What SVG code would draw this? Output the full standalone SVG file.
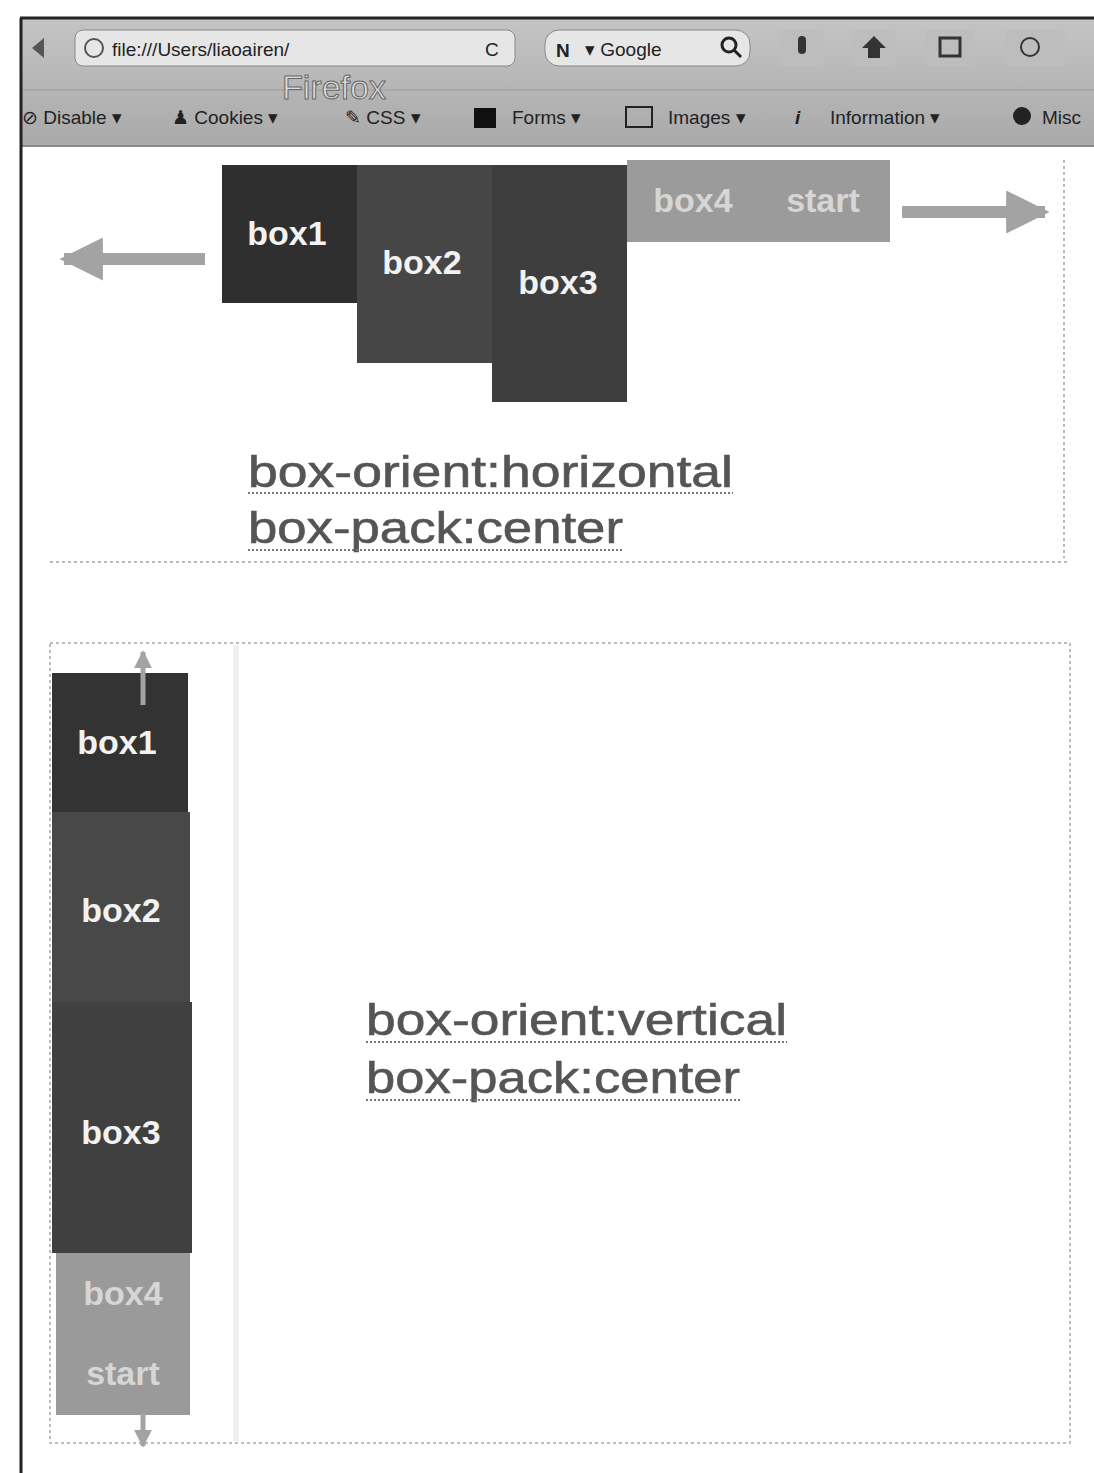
<svg xmlns="http://www.w3.org/2000/svg" width="1094" height="1473" viewBox="0 0 1094 1473">
<defs>
<linearGradient id="tb" x1="0" y1="0" x2="0" y2="1">
<stop offset="0" stop-color="#c4c4c4"/><stop offset="1" stop-color="#a9a9a9"/>
</linearGradient>
<marker id="ah" viewBox="0 0 10 10" refX="9" refY="5" markerWidth="3.6" markerHeight="4" orient="auto" markerUnits="strokeWidth">
<path d="M0,0 L10,5 L0,10 z" fill="#a3a3a3"/>
</marker>
</defs>
<style>
.tbt{font-family:"Liberation Sans",Arial,sans-serif;font-size:19px;fill:#222}
.lbl{font-family:"Liberation Sans",Arial,sans-serif;font-weight:bold;font-size:34px;fill:#f2f2f2;text-anchor:middle}
.lbl2{font-family:"Liberation Sans",Arial,sans-serif;font-weight:bold;font-size:34px;fill:#d6d6d6;text-anchor:middle}
.css{font-family:"Liberation Sans",Arial,sans-serif;font-size:44px;fill:#555;stroke:#555;stroke-width:0.6}
.ul{stroke:#777;stroke-width:2;stroke-dasharray:2 2}
.dot{fill:none;stroke:#bbb;stroke-width:2;stroke-dasharray:3 3}
.arr{stroke:#a3a3a3;fill:none}
</style>
<rect width="1094" height="1473" fill="#fff"/>
<g id="browser-chrome">
<rect x="20" y="18" width="1074" height="128" fill="url(#tb)"/>
<line x1="20" y1="90" x2="1094" y2="90" stroke="#999" stroke-width="1"/>
<rect x="75" y="30" width="440" height="36" rx="8" fill="#e6e6e6" stroke="#888"/>
<circle cx="94" cy="48" r="9" fill="none" stroke="#555" stroke-width="2"/>
<text class="tbt" x="112" y="56">file:///Users/liaoairen/</text>
<text class="tbt" x="485" y="56" fill="#666">C</text>
<rect x="545" y="30" width="205" height="36" rx="14" fill="#e6e6e6" stroke="#888"/>
<text class="tbt" x="556" y="57" font-weight="bold">N</text>
<text class="tbt" x="585" y="56" fill="#555">▾ Google</text>
<circle cx="729" cy="45" r="7" fill="none" stroke="#222" stroke-width="3"/>
<line x1="734" y1="50" x2="741" y2="57" stroke="#222" stroke-width="3"/>
<rect x="780" y="30" width="44" height="36" rx="5" fill="#bdbdbd"/>
<rect x="798" y="36" width="8" height="18" rx="4" fill="#333"/>
<rect x="852" y="30" width="44" height="36" rx="5" fill="#bdbdbd"/>
<path d="M874,36 L886,48 L880,48 L880,58 L868,58 L868,48 L862,48 z" fill="#333"/>
<rect x="925" y="30" width="50" height="36" rx="5" fill="#bdbdbd"/>
<rect x="940" y="38" width="20" height="18" fill="none" stroke="#333" stroke-width="3"/>
<rect x="1005" y="30" width="60" height="36" rx="5" fill="#bdbdbd"/>
<circle cx="1030" cy="47" r="9" fill="none" stroke="#333" stroke-width="2"/>
<path d="M32,48 L44,38 L44,58 z" fill="#555"/>
<text x="282" y="99" font-family="Liberation Sans,Arial,sans-serif" font-size="34" fill="#ddd" stroke="#666" stroke-width="1">Firefox</text>
<text class="tbt" x="22" y="124">⊘ Disable ▾</text>
<text class="tbt" x="172" y="124">♟ Cookies ▾</text>
<text class="tbt" x="345" y="124">✎ CSS ▾</text>
<rect x="474" y="108" width="22" height="20" fill="#111"/>
<text class="tbt" x="512" y="124">Forms ▾</text>
<rect x="626" y="107" width="26" height="20" fill="none" stroke="#222" stroke-width="2"/>
<text class="tbt" x="668" y="124">Images ▾</text>
<text class="tbt" x="795" y="124" font-weight="bold" font-style="italic">i</text>
<text class="tbt" x="830" y="124">Information ▾</text>
<circle cx="1022" cy="116" r="9" fill="#222"/>
<text class="tbt" x="1042" y="124">Misc</text>
<line x1="20" y1="146" x2="1094" y2="146" stroke="#888" stroke-width="2"/>
<line x1="20" y1="18" x2="1094" y2="18" stroke="#222" stroke-width="3"/>
<line x1="21" y1="18" x2="21" y2="1473" stroke="#222" stroke-width="3"/>
</g>
<g id="panel-horizontal">
<path class="dot" d="M50,562 L1070,562 M1064,160 L1064,558"/>
</g>
<g id="panel-vertical">
<rect class="dot" x="50" y="643" width="1020" height="800"/>
<line x1="236" y1="645" x2="236" y2="1441" stroke="#f0f0f0" stroke-width="6"/>
</g>
<g id="h-box1"><rect x="222" y="165" width="135" height="138" fill="#2f2f2f"/><text class="lbl" x="287" y="245">box1</text></g>
<g id="h-box2"><rect x="357" y="165" width="135" height="198" fill="#464646"/><text class="lbl" x="422" y="274">box2</text></g>
<g id="h-box3"><rect x="492" y="165" width="135" height="237" fill="#3e3e3e"/><text class="lbl" x="558" y="294">box3</text></g>
<g id="h-box4"><rect x="627" y="160" width="263" height="82" fill="#9b9b9b"/><text class="lbl2" x="693" y="212">box4</text><text class="lbl2" x="823" y="212">start</text></g>
<g id="h-caption">
<text class="css" x="248" y="487" textLength="485" lengthAdjust="spacingAndGlyphs">box-orient:horizontal</text>
<line class="ul" x1="248" y1="493" x2="733" y2="493"/>
<text class="css" x="248" y="543" textLength="375" lengthAdjust="spacingAndGlyphs">box-pack:center</text>
<line class="ul" x1="248" y1="550" x2="623" y2="550"/>
</g>
<g id="v-box1"><rect x="52" y="673" width="136" height="139" fill="#333"/><text class="lbl" x="117" y="754">box1</text></g>
<g id="v-box2"><rect x="52" y="812" width="138" height="190" fill="#484848"/><text class="lbl" x="121" y="922">box2</text></g>
<g id="v-box3"><rect x="52" y="1002" width="140" height="251" fill="#404040"/><text class="lbl" x="121" y="1144">box3</text></g>
<g id="v-box4"><rect x="56" y="1253" width="134" height="162" fill="#9a9a9a"/><text class="lbl2" x="123" y="1305">box4</text><text class="lbl2" x="123" y="1385">start</text></g>
<g id="v-caption">
<text class="css" x="366" y="1035" textLength="421" lengthAdjust="spacingAndGlyphs">box-orient:vertical</text>
<line class="ul" x1="366" y1="1042" x2="787" y2="1042"/>
<text class="css" x="366" y="1093" textLength="374" lengthAdjust="spacingAndGlyphs">box-pack:center</text>
<line class="ul" x1="366" y1="1100" x2="740" y2="1100"/>
</g>
<g id="connectors">
<line class="arr" x1="205" y1="259" x2="64" y2="259" stroke-width="12" marker-end="url(#ah)"/>
<line class="arr" x1="902" y1="212" x2="1045" y2="212" stroke-width="12" marker-end="url(#ah)"/>
<line class="arr" x1="143" y1="705" x2="143" y2="652" stroke-width="5" marker-end="url(#ah)"/>
<line class="arr" x1="143" y1="1413" x2="143" y2="1446" stroke-width="5" marker-end="url(#ah)"/>
</g>
</svg>
